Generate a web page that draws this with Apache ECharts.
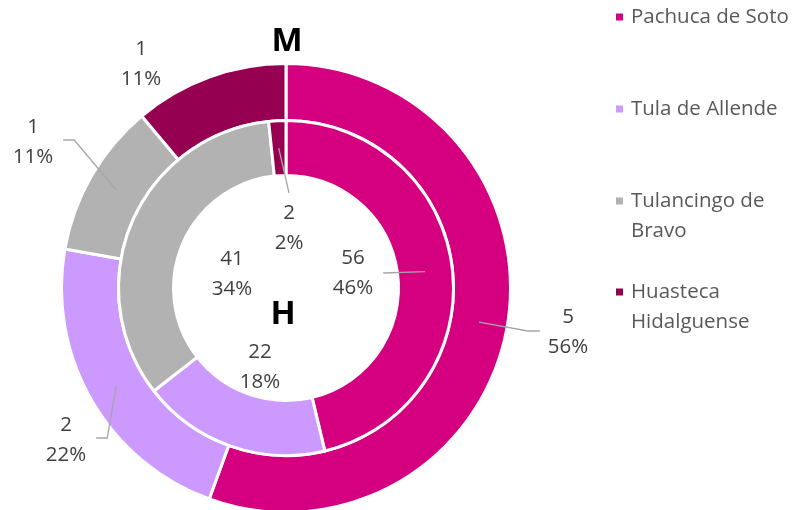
<!DOCTYPE html>
<html>
<head>
<meta charset="utf-8">
<script src="https://cdn.jsdelivr.net/npm/echarts@6/dist/echarts.min.js"></script>
<style>
html,body{margin:0;padding:0;background:#fff;}
#chart{width:795px;height:510px;}
</style>
</head>
<body>
<div id="chart"></div>
<script>
// ---- data ----
const categories = ['Pachuca de Soto', 'Tula de Allende', 'Tulancingo de Bravo', 'Huasteca Hidalguense'];
const legendLabels = ['Pachuca de Soto', 'Tula de Allende', 'Tulancingo de\nBravo', 'Huasteca\nHidalguense'];
const valuesM = [5, 2, 1, 1];     // outer ring "M"
const valuesH = [56, 22, 41, 2];  // inner ring "H"
const ringTitles = ['M', 'H'];

// ---- styles / layout ----
const colors = ['#D5007F', '#CC99FF', '#B2B2B2', '#960050'];
const CX = 286, CY = 288;
const FONT = '"Open Sans", sans-serif';
const FS = 20.5;
const outerR = [167.5, 224.5], innerR = [112.5, 167.5];
// label centre offsets from pie centre, and leader-line attachment side
const outerLabelCfg = [
  {dx: 282, dy: 44, side: 'L', midR: 196},
  {dx: -220, dy: 152, side: 'R', midR: 196},
  {dx: -253, dy: -146, side: 'R', midR: 196},
  {dx: -145, dy: -224, side: null}
];
const innerLabelCfg = [
  {dx: 67, dy: -15, side: 'Rs', midR: 140},
  {dx: -26, dy: 79, side: null},
  {dx: -54, dy: -14, side: null},
  {dx: 3, dy: -60, side: 'T', midR: 140}
];

function fmt(v, tot) { return v + '\n' + Math.round(v / tot * 100) + '%'; }

const measureCtx = document.createElement('canvas').getContext('2d');
measureCtx.font = FS + 'px ' + FONT;
function textWidth(t) { return Math.max.apply(null, t.split('\n').map(s => measureCtx.measureText(s).width)); }

function midAngles(vals) {
  const tot = vals.reduce((a, b) => a + b, 0);
  let acc = 0;
  return vals.map(v => { const m = (acc + v / 2) / tot * 360; acc += v; return m; });
}

function leaderLines(vals, cfgs) {
  const tot = vals.reduce((a, b) => a + b, 0);
  const angles = midAngles(vals);
  const out = [];
  vals.forEach((v, i) => {
    const c = cfgs[i];
    if (!c.side) return;
    const x = CX + c.dx, y = CY + c.dy;
    const txt = fmt(v, tot);
    const w = textWidth(txt), h = 30 * txt.split('\n').length;
    const th = angles[i] * Math.PI / 180;
    const s = [CX + c.midR * Math.sin(th), CY - c.midR * Math.cos(th)];
    let pts;
    if (c.side === 'L') { const e = [x - w / 2 - 8, y - 1]; pts = [s, [e[0] - 12, e[1]], e]; }
    else if (c.side === 'R') { const e = [x + w / 2 + 10, y - 2]; pts = [s, [e[0] + 11, e[1]], e]; }
    else if (c.side === 'Rs') { pts = [s, [x + w / 2 + 10, y]]; }
    else { pts = [s, [x, y - h / 2 - 5]]; }
    out.push({
      type: 'polyline', z: 50, silent: true,
      shape: {points: pts},
      style: {stroke: '#A6A6A6', lineWidth: 1.3, fill: null}
    });
  });
  return out;
}

function makeLayout(cfgs) {
  return function (params) {
    const c = cfgs[params.dataIndex];
    return {x: CX + c.dx, y: CY + c.dy, align: 'center', verticalAlign: 'middle'};
  };
}

function buildData(vals) {
  return vals.map((v, i) => ({name: categories[i], value: v, itemStyle: {color: colors[i]}}));
}

const labelStyle = {
  show: true,
  position: 'outside',
  formatter: p => p.value + '\n' + Math.round(p.percent) + '%',
  fontFamily: FONT,
  fontSize: FS,
  lineHeight: 30,
  color: '#404040',
  align: 'center'
};

const legendTops = [2, 94, 186, 277];
const legends = categories.map((name, i) => {
  const twoLine = legendLabels[i].indexOf('\n') >= 0;
  return {
    data: [name],
    orient: 'vertical',
    left: 614,
    top: legendTops[i],
    padding: 0,
    icon: twoLine ? 'path://M0,0h9v9h-9zM0,38.99h0.01v0.01h-0.01z' : 'rect',
    itemWidth: 9,
    itemHeight: twoLine ? 39 : 9,
    selectedMode: false,
    formatter: n => legendLabels[categories.indexOf(n)],
    textStyle: {
      fontFamily: FONT,
      fontSize: FS,
      lineHeight: 30,
      color: '#595959',
      padding: [0, 0, 0, 2]
    }
  };
});

const chart = echarts.init(document.getElementById('chart'), null, {renderer: 'canvas'});
chart.setOption({
  animation: false,
  backgroundColor: '#fff',
  legend: legends,
  graphic: [
    {type: 'text', x: CX + 1, y: 42, z: 50, style: {text: ringTitles[0], font: 'bold 33px ' + FONT, fill: '#000', textAlign: 'center', textVerticalAlign: 'middle'}},
    {type: 'text', x: CX - 3, y: 315, z: 50, style: {text: ringTitles[1], font: 'bold 33px ' + FONT, fill: '#000', textAlign: 'center', textVerticalAlign: 'middle'}}
  ].concat(leaderLines(valuesM, outerLabelCfg), leaderLines(valuesH, innerLabelCfg)),
  series: [
    {
      name: ringTitles[0],
      type: 'pie',
      center: [CX, CY],
      radius: outerR,
      startAngle: 90,
      clockwise: true,
      avoidLabelOverlap: false,
      emphasis: {disabled: true},
      itemStyle: {borderColor: '#fff', borderWidth: 3},
      label: labelStyle,
      labelLine: {show: false},
      labelLayout: makeLayout(outerLabelCfg),
      data: buildData(valuesM)
    },
    {
      name: ringTitles[1],
      type: 'pie',
      center: [CX, CY],
      radius: innerR,
      startAngle: 90,
      clockwise: true,
      avoidLabelOverlap: false,
      emphasis: {disabled: true},
      itemStyle: {borderColor: '#fff', borderWidth: 3},
      label: labelStyle,
      labelLine: {show: false},
      labelLayout: makeLayout(innerLabelCfg),
      data: buildData(valuesH)
    }
  ]
});
</script>
</body>
</html>
